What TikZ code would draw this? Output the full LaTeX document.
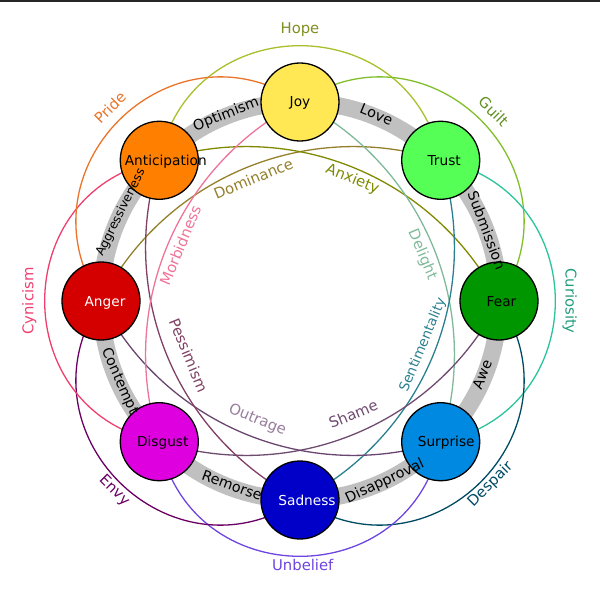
\documentclass[tikz,border=0pt]{standalone}
\usepackage{fontspec}
\setmainfont{DejaVu Sans}

% Couleurs des emotions
\definecolor{joycol}{HTML}{FFE854}
\definecolor{trustcol}{HTML}{55FF55}
\definecolor{fearcol}{HTML}{009600}
\definecolor{surprisecol}{HTML}{0089E0}
\definecolor{sadnesscol}{HTML}{0000C8}
\definecolor{disgustcol}{HTML}{DE00DE}
\definecolor{angercol}{HTML}{D40000}
\definecolor{anticcol}{HTML}{FF7F00}
\definecolor{bandcol}{HTML}{C0C0C0}

% Dyades secondaires
\colorlet{hopecol}{anticcol!50!trustcol}
\colorlet{guiltcol}{joycol!50!fearcol}
\colorlet{curiocol}{trustcol!50!surprisecol}
\colorlet{despcol}{fearcol!50!sadnesscol}
\colorlet{unbcol}{surprisecol!50!disgustcol}
\colorlet{envycol}{sadnesscol!50!angercol}
\colorlet{cyncol}{disgustcol!50!anticcol}
\colorlet{pridecol}{angercol!50!joycol}

% Dyades tertiaires
\colorlet{domcol}{angercol!50!trustcol}
\colorlet{anxcol}{anticcol!50!fearcol}
\colorlet{delcol}{joycol!50!surprisecol}
\colorlet{sentcol}{trustcol!50!sadnesscol}
\colorlet{shamecol}{fearcol!50!disgustcol}
\colorlet{outcol}{surprisecol!50!angercol}
\colorlet{pesscol}{sadnesscol!50!anticcol}
\colorlet{morbcol}{disgustcol!50!joycol}

\pgfdeclarelayer{background}
\pgfsetlayers{background,main}

\begin{document}
\begin{tikzpicture}[line cap=round,line join=round,x=1pt,y=1pt,
	emo/.style={circle,draw=black,line width=1.3pt,minimum size=78pt,inner sep=0pt},
	emotxt/.style={font=\fontsize{13.7}{16}\selectfont,anchor=base,yshift=-5pt},
	bandtxt/.style={font=\fontsize{14.3}{16}\selectfont,text height=10pt,text depth=3pt,inner sep=0pt},
	dyadtxt/.style={font=\fontsize{14.8}{16}\selectfont,text height=10pt,text depth=3pt,inner sep=0pt},
	second/.style={line width=1.3pt,bend left=78.7,looseness=1.42},
	third/.style={line width=1.3pt,bend left=40.3,looseness=0.97}]
		% Cadre
		\useasboundingbox (-300,-299) rectangle (300,301);
		\fill[black!85] (-300,299) rectangle (300,301);
		
		% Emotions primaires
		\node[emo,fill=joycol] (joy) at (90:199) {};
		\node[emo,fill=trustcol] (trust) at (45:199) {};
		\node[emo,fill=fearcol] (fear) at (0:199) {};
		\node[emo,fill=surprisecol] (surprise) at (-45:199) {};
		\node[emo,fill=sadnesscol] (sadness) at (-90:199) {};
		\node[emo,fill=disgustcol] (disgust) at (-135:199) {};
		\node[emo,fill=angercol] (anger) at (180:199) {};
		\node[emo,fill=anticcol] (antic) at (135:199) {};
		
		% Noms des emotions
		\node[emotxt] (joy-txt) at (joy.center) {Joy};
		\node[emotxt,xshift=3.5pt] (trust-txt) at (trust.center) {Trust};
		\node[emotxt,xshift=2.5pt] (fear-txt) at (fear.center) {Fear};
		\node[emotxt,xshift=5.5pt] (surprise-txt) at (surprise.center) {Surprise};
		\node[emotxt,xshift=7pt,text=white] (sadness-txt) at (sadness.center) {Sadness};
		\node[emotxt,xshift=3.5pt] (disgust-txt) at (disgust.center) {Disgust};
		\node[emotxt,xshift=4pt,text=white] (anger-txt) at (anger.center) {Anger};
		\node[emotxt,xshift=6.5pt] (antic-txt) at (antic.center) {Anticipation};
		
		\begin{pgfonlayer}{background}
		% Anneau des dyades primaires
		\draw[bandcol,line width=17pt] (0,0) circle (199);
		
		% Dyades secondaires
		\draw[second,hopecol] (antic.center) to (trust.center);
		\draw[second,guiltcol] (joy.center) to (fear.center);
		\draw[second,curiocol] (trust.center) to (surprise.center);
		\draw[second,despcol] (fear.center) to (sadness.center);
		\draw[second,unbcol] (surprise.center) to (disgust.center);
		\draw[second,envycol] (sadness.center) to (anger.center);
		\draw[second,cyncol] (disgust.center) to (antic.center);
		\draw[second,pridecol] (anger.center) to (joy.center);
		
		% Dyades tertiaires
		\draw[third,domcol] (anger.center) to (trust.center);
		\draw[third,anxcol] (antic.center) to (fear.center);
		\draw[third,delcol] (joy.center) to (surprise.center);
		\draw[third,sentcol] (trust.center) to (sadness.center);
		\draw[third,shamecol] (fear.center) to (disgust.center);
		\draw[third,outcol] (surprise.center) to (anger.center);
		\draw[third,pesscol] (sadness.center) to (antic.center);
		\draw[third,morbcol] (disgust.center) to (joy.center);
		\end{pgfonlayer}
		
		% Labels de l'anneau
		\node[bandtxt,rotate=21.6] (optimism) at (111.6:200) {Optimism};
		\node[bandtxt,rotate=-22.3] (love) at (67.7:200) {Love};
		\node[bandtxt,rotate=-69.3] (submission) at (20.7:198) {Submission};
		\node[bandtxt,rotate=68] (awe) at (-22:198) {Awe};
		\node[bandtxt,rotate=25.2] (disapproval) at (-64.8:200) {Disapproval};
		\node[bandtxt,rotate=-20.2] (remorse) at (-110.2:198) {Remorse};
		\node[bandtxt,rotate=-66] (contempt) at (204:198) {Contempt};
		\node[bandtxt,rotate=63.7,font=\fontsize{12.3}{14}\selectfont] (aggress) at (153.7:200) {Aggressiveness};
		
		% Labels des dyades secondaires
		\node[dyadtxt,text=hopecol!75!black] (hope) at (90:271) {Hope};
		\node[dyadtxt,text=guiltcol!75!black,rotate=-45] (guilt) at (44.4:269) {Guilt};
		\node[dyadtxt,text=curiocol!80!black,rotate=-90] (curiosity) at (0:269) {Curiosity};
		\node[dyadtxt,text=despcol,rotate=45] (despair) at (-43.9:265) {Despair};
		\node[dyadtxt,text=unbcol] (unbelief) at (-89.4:266) {Unbelief};
		\node[dyadtxt,text=envycol,rotate=-45] (envy) at (-134.4:266) {Envy};
		\node[dyadtxt,text=cyncol,rotate=90] (cynicism) at (180:270) {Cynicism};
		\node[dyadtxt,text=pridecol,rotate=45] (pride) at (134.5:269) {Pride};
		
		% Labels des dyades tertiaires
		\node[dyadtxt,text=domcol,rotate=22.5] (dominance) at (110.8:129) {Dominance};
		\node[dyadtxt,text=anxcol,rotate=-22.5] (anxiety) at (66.7:132) {Anxiety};
		\node[dyadtxt,text=delcol,rotate=-67.5] (delight) at (20.7:130) {Delight};
		\node[dyadtxt,text=sentcol,rotate=67.5,font=\fontsize{13.7}{16}\selectfont] (sentiment) at (-19.7:131) {Sentimentality};
		\node[dyadtxt,text=shamecol,rotate=22.5] (shame) at (-64.8:127) {Shame};
		\node[dyadtxt,text=outcol!70!white,rotate=-22.5] (outrage) at (-109.7:127) {Outrage};
		\node[dyadtxt,text=pesscol,rotate=-67.5] (pessimism) at (206:126) {Pessimism};
		\node[dyadtxt,text=morbcol,rotate=67.5] (morbidness) at (155:130) {Morbidness};
	\end{tikzpicture}
\end{document}
